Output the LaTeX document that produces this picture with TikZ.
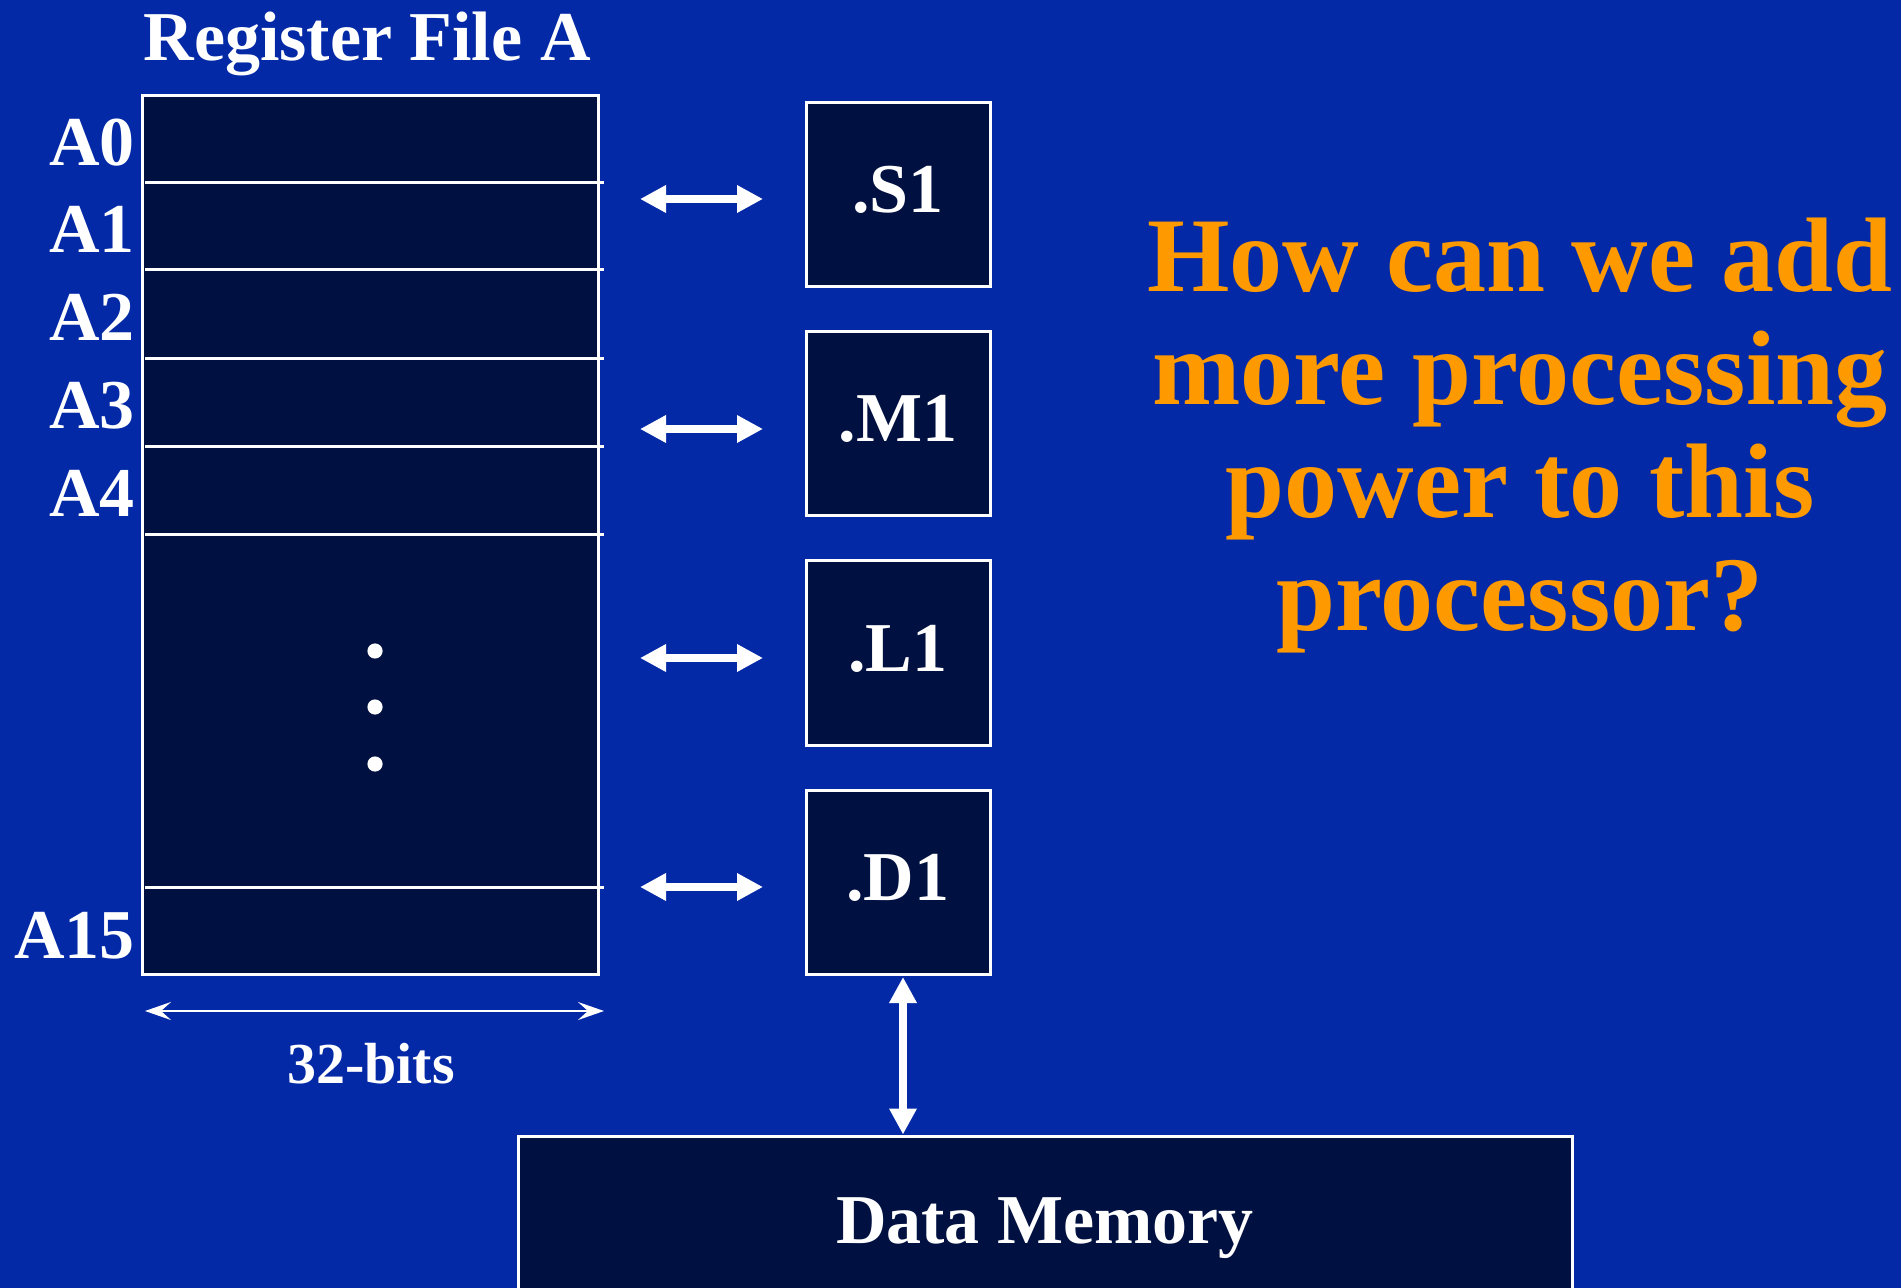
\documentclass[tikz,border=0pt]{standalone}
\usepackage{fontspec}
\setmainfont{Liberation Serif}
\usetikzlibrary{arrows.meta}
\definecolor{bgblue}{RGB}{3,41,166}
\definecolor{navy}{RGB}{0,16,64}
\definecolor{qorange}{RGB}{255,153,0}
\begin{document}
\begin{tikzpicture}[x=0.5pt,y=-0.5pt,
  darkbox/.style={draw=white, line width=1.5pt, fill=navy, inner sep=0pt},
  lbl/.style={text=white, font=\bfseries\fontsize{35}{42}\selectfont, inner sep=0pt},
  unitbox/.style={darkbox, minimum size=92pt, text=white, font=\bfseries\fontsize{35}{42}\selectfont, text height=20pt, text depth=2pt},
  sepline/.style={draw=white, line width=1.5pt},
  bidir/.style={draw=white, line width=4pt, {Triangle[length=13pt,width=13pt]}-{Triangle[length=13pt,width=13pt]}},
  thinarrow/.style={draw=white, line width=1.2pt, {Stealth[length=13pt,width=9pt,inset=5pt]}-{Stealth[length=13pt,width=9pt,inset=5pt]}},
  qtext/.style={text=qorange, font=\bfseries\fontsize{53}{56.5}\selectfont, align=center, inner sep=0pt}
]
\useasboundingbox (0,0) rectangle (1901,1288);
\fill[bgblue] (0,0) rectangle (1901,1288);
\clip (0,0) rectangle (1901,1288);

% register file
\node[lbl, anchor=base] (title) at (367,61) {Register File A};
\node[darkbox, minimum width=228pt, minimum height=439pt] (rf) at (370,535) {};
\foreach \yy in {183,270,359,447,535,887} {
  \draw[sepline] (145,\yy) -- (604,\yy);
}
\node[lbl, anchor=base east] (a0) at (135,166) {A0};
\node[lbl, anchor=base east] (a1) at (135,253) {A1};
\node[lbl, anchor=base east] (a2) at (135,341) {A2};
\node[lbl, anchor=base east] (a3) at (135,429) {A3};
\node[lbl, anchor=base east] (a4) at (135,517) {A4};
\node[lbl, anchor=base east] (a15) at (135,958) {A15};
\foreach \yy in {651,707,764} {
  \fill[white] (375,\yy) circle[radius=3.8pt];
}

% width arrow
\coordinate (w1) at (145,1011);
\coordinate (w2) at (604,1011);
\draw[thinarrow] (w1) -- (w2);
\node[lbl, anchor=base, font=\bfseries\fontsize{29}{35}\selectfont] (bits) at (371,1083) {32-bits};

% functional units
\node[unitbox] (s1) at (898,195) {.S1};
\node[unitbox] (m1) at (898,424) {.M1};
\node[unitbox] (l1) at (898,653) {.L1};
\node[unitbox] (d1) at (898,882) {.D1};

\coordinate (s1l) at (640,199); \coordinate (s1r) at (763,199);
\coordinate (m1l) at (640,429); \coordinate (m1r) at (763,429);
\coordinate (l1l) at (640,658); \coordinate (l1r) at (763,658);
\coordinate (d1l) at (640,887); \coordinate (d1r) at (763,887);
\draw[bidir] (s1l) -- (s1r);
\draw[bidir] (m1l) -- (m1r);
\draw[bidir] (l1l) -- (l1r);
\draw[bidir] (d1l) -- (d1r);

% data memory
\node[darkbox, minimum width=527pt, minimum height=87pt, text=white,
      font=\bfseries\fontsize{35}{42}\selectfont, text height=22pt, text depth=2pt] (dm) at (1045,1223) {Data Memory};
\coordinate (d1b) at (903,977);
\draw[bidir] (d1b) -- (dm.north -| d1b);

% question
\node[qtext] (q) at (1520,436) {How can we add\\more processing\\power to this\\processor?};
\end{tikzpicture}
\end{document}
